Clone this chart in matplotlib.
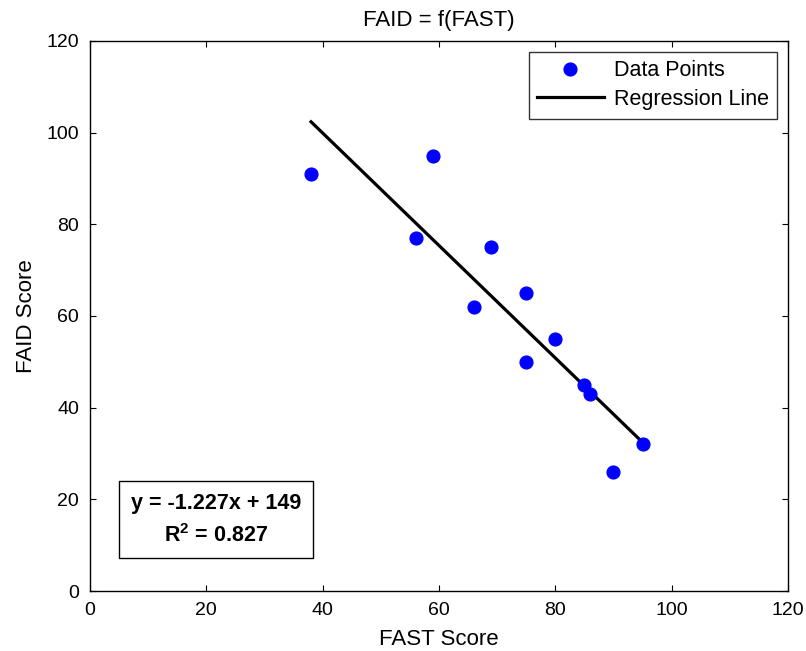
import matplotlib
matplotlib.use("Agg")
import matplotlib.pyplot as plt
import numpy as np
from matplotlib.patches import Rectangle

plt.rcParams['font.family'] = ['Liberation Sans', 'DejaVu Sans']
plt.rcParams['mathtext.fontset'] = 'custom'
plt.rcParams['mathtext.rm'] = 'Liberation Sans'
plt.rcParams['mathtext.bf'] = 'Liberation Sans:bold'

fast_scores = [38, 59, 56, 66, 69, 75, 75, 80, 85, 86, 90, 95]
faid_scores = [91, 95, 77, 62, 75, 65, 50, 55, 45, 43, 26, 32]
slope = -1.227
intercept = 149
r_squared = 0.827
x_ticks = [0, 20, 40, 60, 80, 100, 120]
y_ticks = [0, 20, 40, 60, 80, 100, 120]

fig = plt.figure(figsize=(8.06, 6.51), dpi=100)
ax = fig.add_axes([90/806, 1 - 591/651, 698/806, 550/651])

ax.plot(fast_scores, faid_scores, 'o', color='#0000ff', markersize=9.2,
        linestyle='none', label='Data Points', zorder=3)
xl = np.array([min(fast_scores), max(fast_scores)])
ax.plot(xl, slope * xl + intercept, color='black', linewidth=2.3,
        label='Regression Line', zorder=2)

ax.set_xlim(0, 120)
ax.set_ylim(0, 120)
ax.set_xticks(x_ticks)
ax.set_yticks(y_ticks)
ax.tick_params(direction='in', length=4, width=0.8, top=True, right=True,
               labelsize=14, pad=8)
for s in ax.spines.values():
    s.set_linewidth(1.0)

ax.set_title('FAID = f(FAST)', fontsize=16, pad=11)
ax.set_xlabel('FAST Score', fontsize=16, labelpad=7)
ax.set_ylabel('FAID Score', fontsize=16, labelpad=7)

leg = ax.legend(loc='upper right', fontsize=15.5, frameon=True, fancybox=False,
                edgecolor='black', borderaxespad=0.5, handlelength=3.07,
                handletextpad=0.47, borderpad=0.4, labelspacing=0.35)
leg.get_frame().set_linewidth(1.0)

ax.add_patch(Rectangle((0.042, 0.0596), 0.278, 0.1413, transform=ax.transAxes,
                       fill=False, edgecolor='black', linewidth=1.0, zorder=4))
ax.text(0.1805, 0.160, 'y = %.3fx + %d' % (slope, intercept), transform=ax.transAxes,
        ha='center', va='center', fontsize=15.5, fontweight='bold')
ax.text(0.1805, 0.100, r'R$^{\mathbf{2}}$ = %.3f' % r_squared, transform=ax.transAxes,
        ha='center', va='center', fontsize=15.5, fontweight='bold')

fig.savefig('out.png', dpi=100)
